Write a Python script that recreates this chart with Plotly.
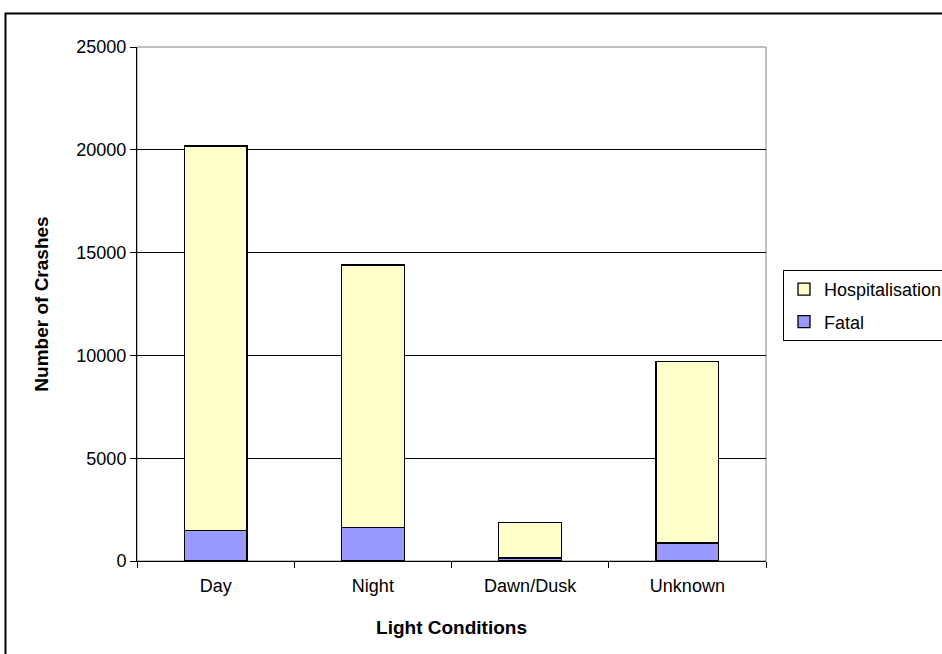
import plotly.graph_objects as go

categories = ["Day", "Night", "Dawn/Dusk", "Unknown"]
fatal = [1470, 1630, 150, 870]
hospitalisation = [18710, 12760, 1710, 8820]
y_ticks = [0, 5000, 10000, 15000, 20000, 25000]

FONT = "Liberation Sans, Arial, sans-serif"

fig = go.Figure()
fig.add_trace(go.Bar(x=categories, y=fatal, name="Fatal", legendgroup="f", legendrank=2,
                     marker=dict(color="#9999FF", line=dict(color="black", width=1.3))))
fig.add_trace(go.Bar(x=categories, y=hospitalisation, name="Hospitalisation",
                     legendgroup="h", legendrank=1,
                     marker=dict(color="#FFFFCC", line=dict(color="black", width=1.3))))

L, R, T, B = 137, 766, 47, 561
W, H = 942, 654
pw, ph = R - L, B - T

fig.update_layout(
    width=W, height=H,
    margin=dict(l=L, r=W - R, t=T, b=H - B, pad=0, autoexpand=False),
    barmode="stack", bargap=0.6,
    paper_bgcolor="white", plot_bgcolor="white",
    font=dict(family=FONT, size=18, color="black"),
    showlegend=True,
    legend=dict(traceorder="grouped", x=(783 - L) / pw, y=(B - 270) / ph,
                xanchor="left", yanchor="top",
                bordercolor="black", borderwidth=1, bgcolor="white",
                font=dict(family=FONT, size=18), itemwidth=30,
                tracegroupgap=6),
    xaxis=dict(title=dict(text="<b>Light Conditions</b>", font=dict(size=19), standoff=26),
               showline=True, linecolor="black", linewidth=1,
               ticks="outside", tickson="boundaries", ticklen=6, tickcolor="black",
               ticklabelstandoff=8, showgrid=False),
    yaxis=dict(title=dict(text="<b>Number of Crashes</b>", font=dict(size=19), standoff=22),
               range=[0, 25000], tickvals=y_ticks, ticktext=[str(v) for v in y_ticks],
               showline=True, linecolor="black", linewidth=1,
               ticks="outside", ticklen=6, tickcolor="black",
               showgrid=True, gridcolor="black", gridwidth=1, zeroline=False),
    shapes=[
        dict(type="rect", xref="paper", yref="paper", x0=0, x1=1, y0=0, y1=1,
             line=dict(color="#808080", width=1), layer="below"),
        dict(type="rect", xref="paper", yref="paper",
             x0=(5.5 - L) / pw, x1=(W + 20 - L) / pw,
             y0=(B - (H + 20)) / ph, y1=(B - 13.5) / ph,
             line=dict(color="black", width=2)),
    ],
)

fig.write_html("out.html", config={"displayModeBar": False},
               post_script="document.body.style.margin='0';document.body.style.overflow='hidden';")
